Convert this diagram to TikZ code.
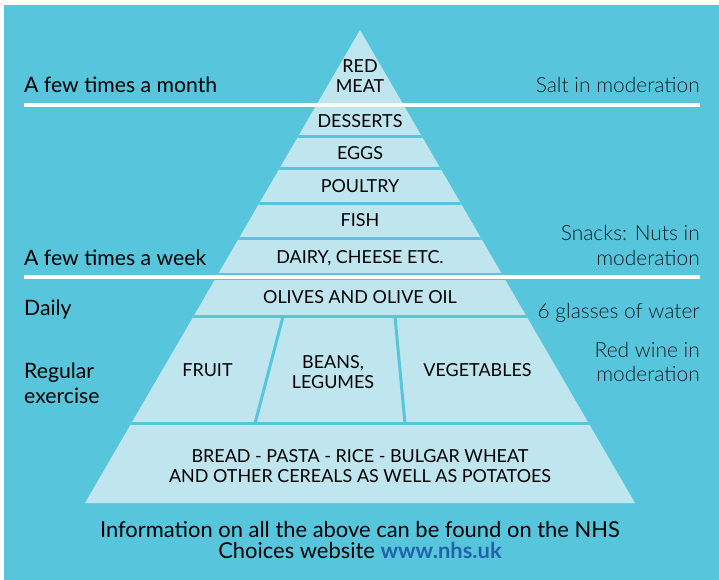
\documentclass[tikz,border=0pt]{standalone}
\usepackage{fontspec}
\setmainfont{Lato}
\newfontfamily\lightfont{Lato Light}
\definecolor{bgcyan}{HTML}{57C6DD}
\definecolor{pale}{HTML}{BFE5EE}
\definecolor{linkblue}{HTML}{1F63A8}
\definecolor{graytext}{HTML}{0E1C22}
\begin{document}
\begin{tikzpicture}[x=1bp,y=-1bp,
  lbl/.style={font=\fontsize{21.3}{25}\selectfont, anchor=base west, inner sep=0},
  rlbl/.style={font=\lightfont\fontsize{21}{25}\selectfont, anchor=base east, inner sep=0, text=graytext},
  food/.style={font=\fontsize{18}{20}\selectfont, align=center, inner sep=0},
  foot/.style={font=\fontsize{22}{23}\selectfont, anchor=base, inner sep=0},
  gap/.style={draw=bgcyan, line width=3bp},
  sep/.style={draw=white, line width=4bp}]
\useasboundingbox (0,0) rectangle (719,580);
\fill[bgcyan] (4,5) rectangle (719,580);
\coordinate (apex) at (360,30);
\coordinate (bl) at (85,503);
\coordinate (br) at (635,503);
\fill[pale] (apex) -- (br) -- (bl) -- cycle;
\begin{scope}
  \clip (apex) -- (br) -- (bl) -- cycle;
  \foreach \y in {136.5,168.5,203.5,238.5,316.5,423.5}
    \draw[gap] (0,\y) -- (719,\y);
  \draw[draw=bgcyan, line width=7bp] (0,276.5) -- (719,276.5);
  \coordinate (d1t) at (283,316.5);
  \coordinate (d1b) at (255,423.5);
  \coordinate (d2t) at (395,316.5);
  \coordinate (d2b) at (405,423.5);
  \draw[gap] (d1t) -- (d1b);
  \draw[gap] (d2t) -- (d2b);
\end{scope}
\coordinate (s1l) at (24,105);
\coordinate (s1r) at (700,105);
\coordinate (s2l) at (24,277);
\coordinate (s2r) at (700,277);
\draw[sep] (s1l) -- (s1r);
\draw[sep] (s2l) -- (s2r);
% pyramid texts
\node[food] (redmeat) at (360,76) {RED\\MEAT};
\node[food] (desserts) at (360,121) {DESSERTS};
\node[food] (eggs) at (360,153) {EGGS};
\node[food] (poultry) at (360,186) {POULTRY};
\node[food] (fish) at (360,220) {FISH};
\node[food] (dairy) at (360,258) {DAIRY, CHEESE ETC.};
\node[food] (olives) at (360,297.5) {OLIVES AND OLIVE OIL};
\node[food] (fruit) at (207.5,370) {FRUIT};
\node[food] (beans) at (333,372) {BEANS,\\LEGUMES};
\node[food] (veg) at (477.5,370) {VEGETABLES};
\node[food] (bread) at (360,466) {BREAD - PASTA - RICE - BULGAR WHEAT\\AND OTHER CEREALS AS WELL AS POTATOES};
% left labels
\node[lbl] (month) at (24,93) {A few times a month};
\node[lbl] (week) at (24,265) {A few times a week};
\node[lbl] (daily) at (24,315) {Daily};
\node[lbl] (regular) at (24,378) {Regular};
\node[lbl] (exercise) at (24,403) {exercise};
% right labels
\node[rlbl] (salt) at (700,93) {Salt in moderation};
\node[rlbl] (snacks) at (700,240) {Snacks: Nuts in};
\node[rlbl] (snacks2) at (700,265) {moderation};
\node[rlbl] (water) at (700,318) {6 glasses of water};
\node[rlbl] (wine) at (700,357.5) {Red wine in};
\node[rlbl] (wine2) at (700,381.5) {moderation};
% footer
\node[foot] (foot1) at (360,537) {Information on all the above can be found on the NHS};
\node[foot] (foot2) at (360,558) {Choices website \textcolor{linkblue}{\textbf{www.nhs.uk}}};
\end{tikzpicture}
\end{document}
